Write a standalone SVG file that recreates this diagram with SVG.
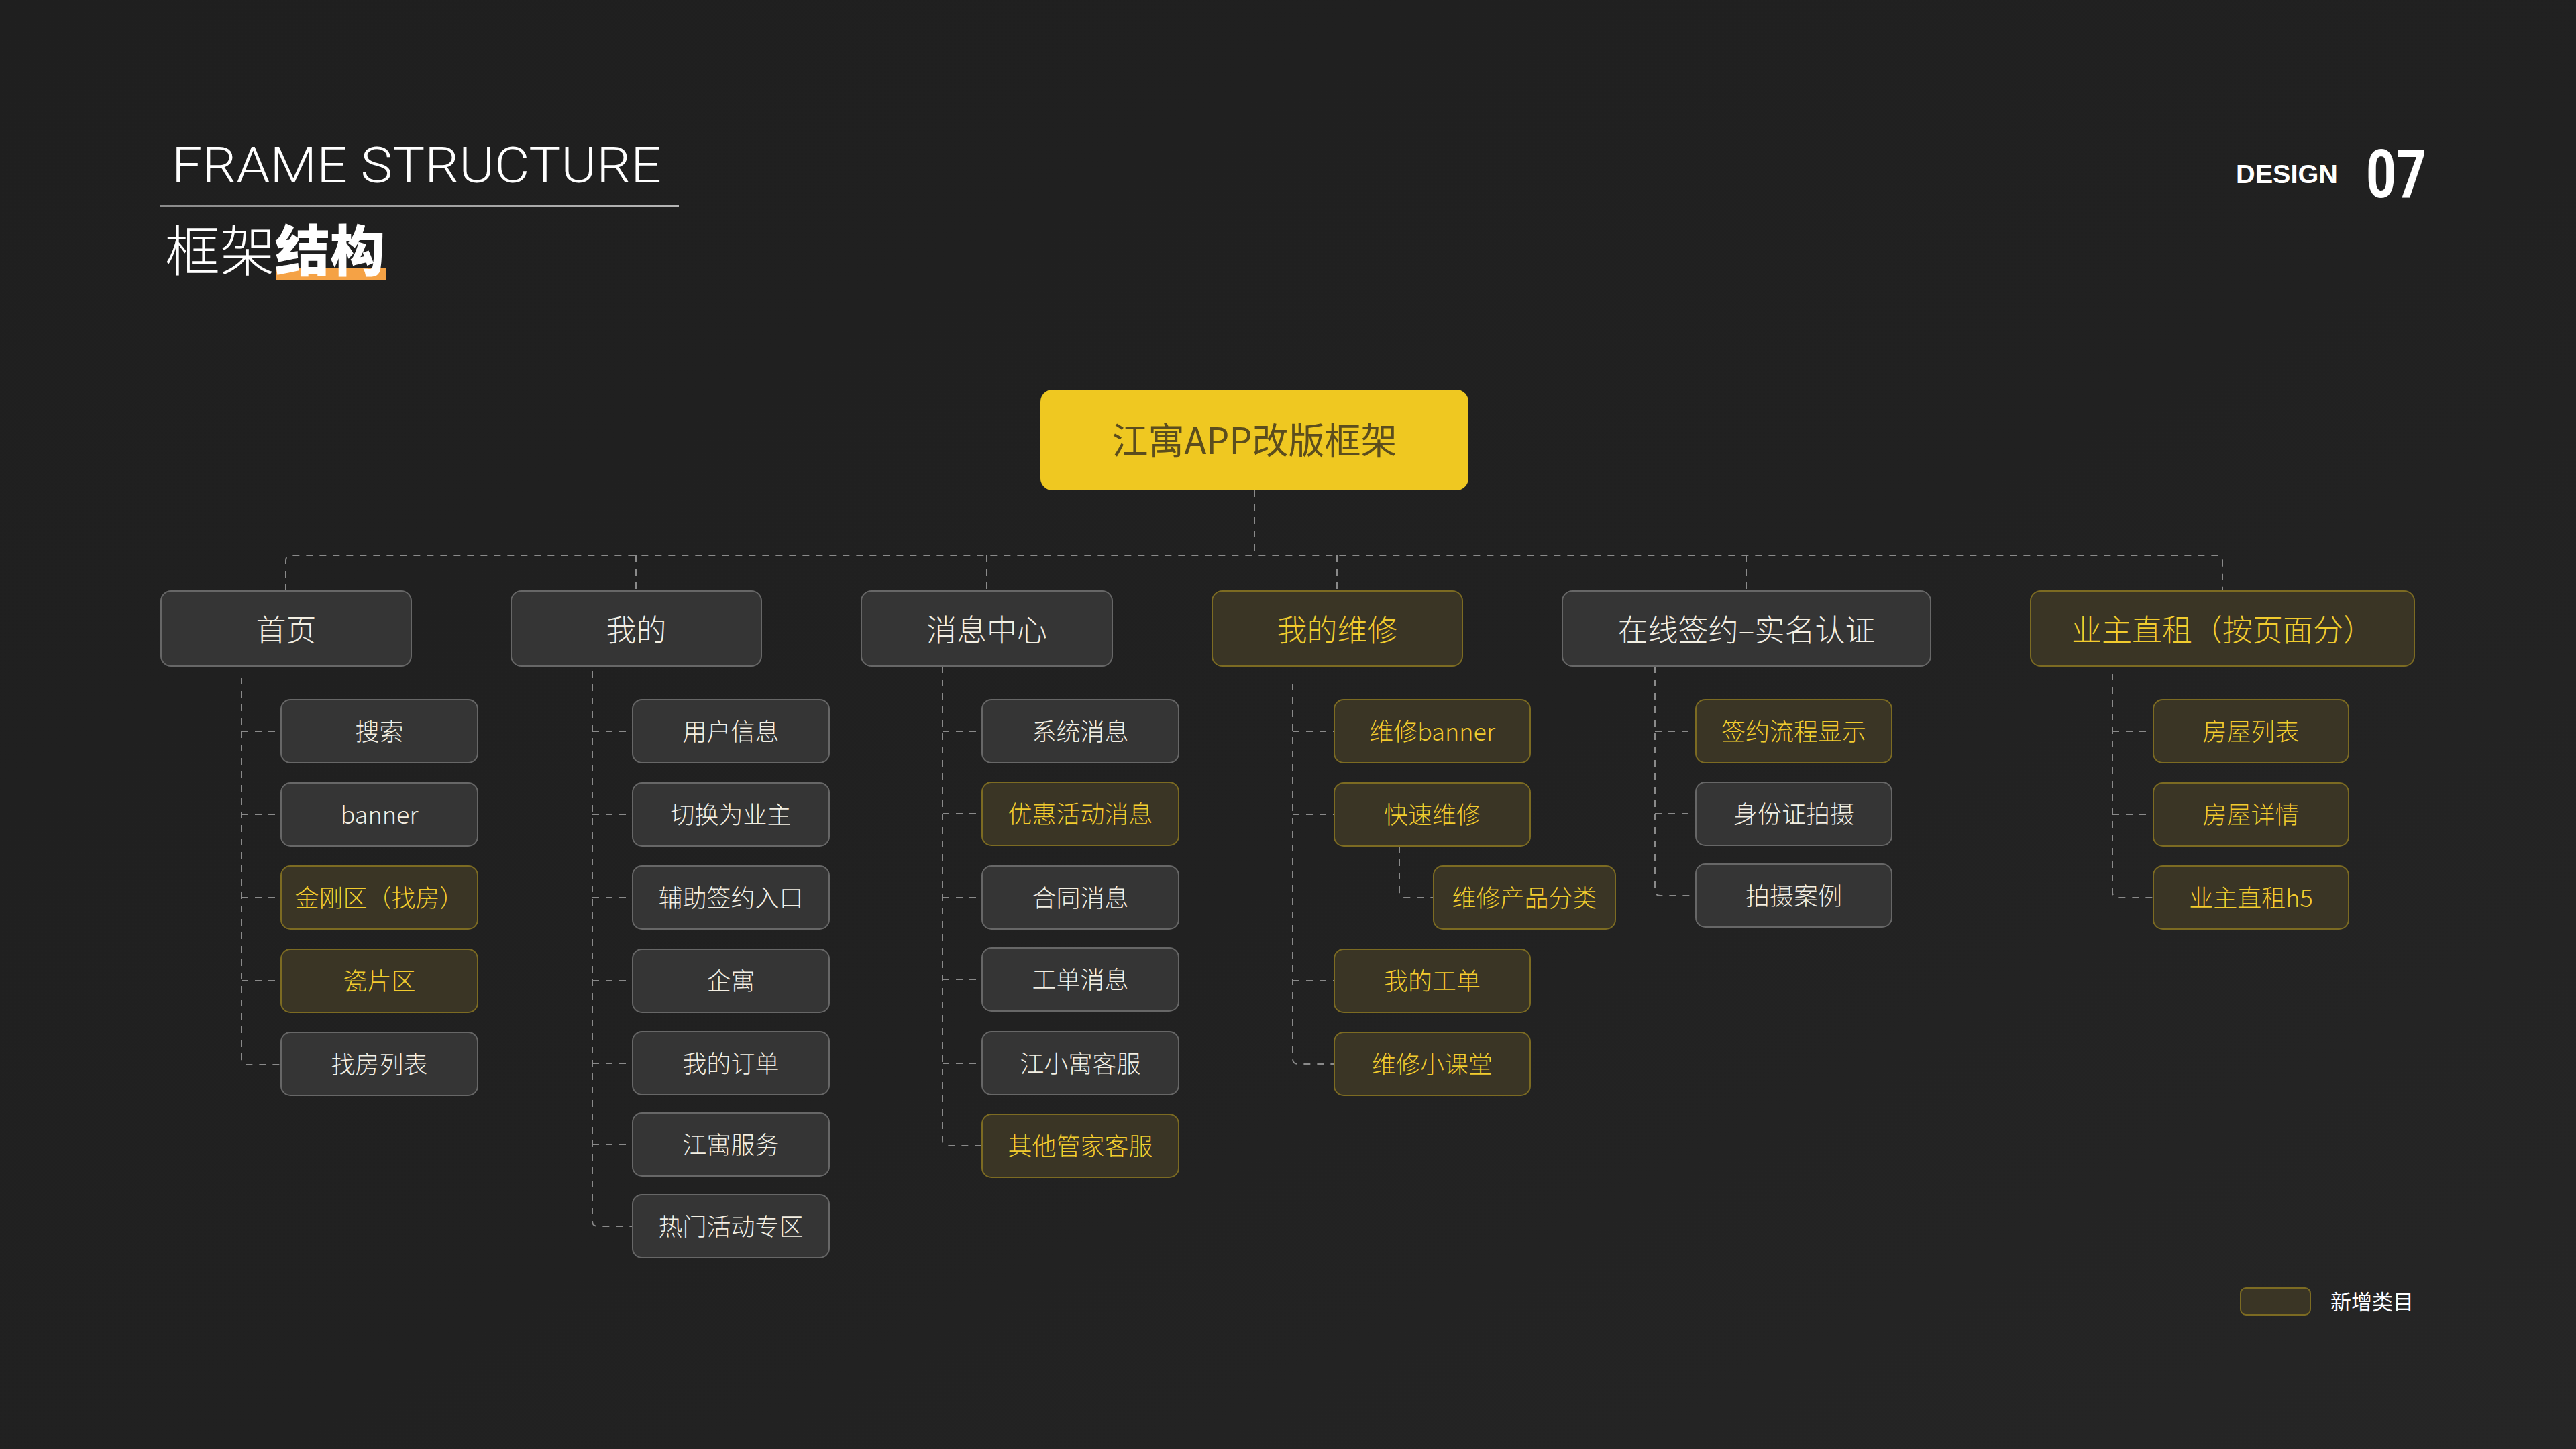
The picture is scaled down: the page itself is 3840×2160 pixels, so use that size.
<svg xmlns="http://www.w3.org/2000/svg" width="3840" height="2160" viewBox="0 0 3840 2160">
<defs>
<linearGradient id="bg" x1="0" y1="0" x2="1" y2="1">
<stop offset="0" stop-color="#1f1f1f"/>
<stop offset="0.55" stop-color="#212121"/>
<stop offset="1" stop-color="#262626"/>
</linearGradient>
<linearGradient id="ul" x1="0" y1="0" x2="1" y2="0">
<stop offset="0" stop-color="#8a8a8a"/>
<stop offset="1" stop-color="#b5b5b5"/>
</linearGradient>
</defs>
<style>
.cjk{font-family:"Noto Sans CJK SC","Noto Sans",sans-serif;}
.n rect{fill:#353535;stroke:#676767;stroke-width:2;}
.y rect{fill:#3a3525;stroke:#7c6b22;stroke-width:2;}
.n text{fill:#f3efe3;}
.y text{fill:#f2cc2e;}
.l1 text{font-size:45px;text-anchor:middle;font-family:"Noto Sans CJK SC","Noto Sans",sans-serif;font-weight:300;}
.l2 text{font-size:36px;text-anchor:middle;font-family:"Noto Sans CJK SC","Noto Sans",sans-serif;font-weight:300;}
.c path{fill:none;stroke:#8a8a8a;stroke-width:2;stroke-dasharray:10 10;}
</style>
<rect x="0" y="0" width="3840" height="2160" fill="url(#bg)"/>

<g id="title">
<text x="256" y="272" font-family="Roboto, 'Liberation Sans', sans-serif" font-weight="300" font-size="74" fill="#ffffff" textLength="730" lengthAdjust="spacingAndGlyphs">FRAME STRUCTURE</text>
<rect x="239" y="306" width="773" height="3" fill="url(#ul)"/>
<rect x="412" y="400" width="163" height="17" fill="#f5a245"/>
<text x="246" y="404" class="cjk" font-size="82" fill="#ffffff"><tspan font-weight="300">框架</tspan><tspan font-weight="900">结构</tspan></text>
</g>

<g id="page-no">
<text x="3333" y="273" font-family="'Liberation Sans', Arial, sans-serif" font-weight="bold" font-size="39" fill="#ffffff" textLength="152" lengthAdjust="spacingAndGlyphs">DESIGN</text>
<text x="3527" y="294" font-family="Roboto, 'Liberation Sans', sans-serif" font-weight="700" font-size="101" fill="#ffffff" textLength="90" lengthAdjust="spacingAndGlyphs">07</text>
</g>

<g id="connectors" class="c">
<path d="M1870,731 V828"/>
<path d="M426,881 V836 Q426,828 434,828 H3305 Q3313,828 3313,836 V881"/>
<path d="M948,828 V881"/>
<path d="M1471,828 V881"/>
<path d="M1993,828 V881"/>
<path d="M2603,828 V881"/>
<!-- 首页 -->
<path d="M360,1010 V1579 Q360,1587 368,1587 H419"/>
<path d="M360,1090 H419"/><path d="M360,1214 H419"/><path d="M360,1338 H419"/><path d="M360,1462 H419"/>
<!-- 我的 -->
<path d="M883,1000 V1820 Q883,1828 891,1828 H943"/>
<path d="M883,1090 H943"/><path d="M883,1214 H943"/><path d="M883,1338 H943"/><path d="M883,1462 H943"/><path d="M883,1585 H943"/><path d="M883,1706 H943"/>
<!-- 消息中心 -->
<path d="M1405,993 V1700 Q1405,1708 1413,1708 H1464"/>
<path d="M1405,1090 H1464"/><path d="M1405,1213 H1464"/><path d="M1405,1338 H1464"/><path d="M1405,1460 H1464"/><path d="M1405,1585 H1464"/>
<!-- 我的维修 -->
<path d="M1927,1019 V1578 Q1927,1586 1935,1586 H1989"/>
<path d="M1927,1090 H1989"/><path d="M1927,1214 H1989"/><path d="M1927,1462 H1989"/>
<path d="M2086,1261 V1330 Q2086,1338 2094,1338 H2137"/>
<!-- 在线签约 -->
<path d="M2467,993 V1327 Q2467,1335 2475,1335 H2528"/>
<path d="M2467,1090 H2528"/><path d="M2467,1213 H2528"/>
<!-- 业主直租 -->
<path d="M3149,1004 V1330 Q3149,1338 3157,1338 H3210"/>
<path d="M3149,1090 H3210"/><path d="M3149,1214 H3210"/>
</g>

<g id="root">
<rect x="1551" y="581" width="638" height="150" rx="18" fill="#efc821"/>
<text x="1870" y="677" class="cjk" font-size="54" text-anchor="middle" fill="#5b4d1e">江寓APP改版框架</text>
</g>

<g id="l1-home" class="n l1"><rect x="240" y="881" width="373" height="112" rx="15"/><text x="426.5" y="956">首页</text></g>
<g id="l1-mine" class="n l1"><rect x="762" y="881" width="373" height="112" rx="15"/><text x="948.5" y="956">我的</text></g>
<g id="l1-msg" class="n l1"><rect x="1284" y="881" width="374" height="112" rx="15"/><text x="1471" y="956">消息中心</text></g>
<g id="l1-repair" class="y l1"><rect x="1807" y="881" width="373" height="112" rx="15"/><text x="1993.5" y="956">我的维修</text></g>
<g id="l1-sign" class="n l1"><rect x="2329" y="881" width="549" height="112" rx="15"/><text x="2603.5" y="956">在线签约–实名认证</text></g>
<g id="l1-owner" class="y l1"><rect x="3027" y="881" width="572" height="112" rx="15"/><text x="3313" y="956">业主直租（按页面分）</text></g>

<g id="home-1" class="n l2"><rect x="419" y="1043" width="293" height="94" rx="14"/><text x="565.5" y="1104">搜索</text></g>
<g id="home-2" class="n l2"><rect x="419" y="1167" width="293" height="94" rx="14"/><text x="565.5" y="1228">banner</text></g>
<g id="home-3" class="y l2"><rect x="419" y="1291" width="293" height="94" rx="14"/><text x="565.5" y="1352">金刚区（找房）</text></g>
<g id="home-4" class="y l2"><rect x="419" y="1415" width="293" height="94" rx="14"/><text x="565.5" y="1476">瓷片区</text></g>
<g id="home-5" class="n l2"><rect x="419" y="1539" width="293" height="94" rx="14"/><text x="565.5" y="1600">找房列表</text></g>

<g id="mine-1" class="n l2"><rect x="943" y="1043" width="293" height="94" rx="14"/><text x="1089.5" y="1104">用户信息</text></g>
<g id="mine-2" class="n l2"><rect x="943" y="1167" width="293" height="94" rx="14"/><text x="1089.5" y="1228">切换为业主</text></g>
<g id="mine-3" class="n l2"><rect x="943" y="1291" width="293" height="94" rx="14"/><text x="1089.5" y="1352">辅助签约入口</text></g>
<g id="mine-4" class="n l2"><rect x="943" y="1415" width="293" height="94" rx="14"/><text x="1089.5" y="1476">企寓</text></g>
<g id="mine-5" class="n l2"><rect x="943" y="1538" width="293" height="94" rx="14"/><text x="1089.5" y="1599">我的订单</text></g>
<g id="mine-6" class="n l2"><rect x="943" y="1659" width="293" height="94" rx="14"/><text x="1089.5" y="1720">江寓服务</text></g>
<g id="mine-7" class="n l2"><rect x="943" y="1781" width="293" height="94" rx="14"/><text x="1089.5" y="1842">热门活动专区</text></g>

<g id="msg-1" class="n l2"><rect x="1464" y="1043" width="293" height="94" rx="14"/><text x="1610.5" y="1104">系统消息</text></g>
<g id="msg-2" class="y l2"><rect x="1464" y="1166" width="293" height="94" rx="14"/><text x="1610.5" y="1227">优惠活动消息</text></g>
<g id="msg-3" class="n l2"><rect x="1464" y="1291" width="293" height="94" rx="14"/><text x="1610.5" y="1352">合同消息</text></g>
<g id="msg-4" class="n l2"><rect x="1464" y="1413" width="293" height="94" rx="14"/><text x="1610.5" y="1474">工单消息</text></g>
<g id="msg-5" class="n l2"><rect x="1464" y="1538" width="293" height="94" rx="14"/><text x="1610.5" y="1599">江小寓客服</text></g>
<g id="msg-6" class="y l2"><rect x="1464" y="1661" width="293" height="94" rx="14"/><text x="1610.5" y="1722">其他管家客服</text></g>

<g id="repair-1" class="y l2"><rect x="1989" y="1043" width="292" height="94" rx="14"/><text x="2135" y="1104">维修banner</text></g>
<g id="repair-2" class="y l2"><rect x="1989" y="1167" width="292" height="94" rx="14"/><text x="2135" y="1228">快速维修</text></g>
<g id="repair-2a" class="y l2"><rect x="2137" y="1291" width="271" height="94" rx="14"/><text x="2272.5" y="1352">维修产品分类</text></g>
<g id="repair-3" class="y l2"><rect x="1989" y="1415" width="292" height="94" rx="14"/><text x="2135" y="1476">我的工单</text></g>
<g id="repair-4" class="y l2"><rect x="1989" y="1539" width="292" height="94" rx="14"/><text x="2135" y="1600">维修小课堂</text></g>

<g id="sign-1" class="y l2"><rect x="2528" y="1043" width="292" height="94" rx="14"/><text x="2674" y="1104">签约流程显示</text></g>
<g id="sign-2" class="n l2"><rect x="2528" y="1166" width="292" height="94" rx="14"/><text x="2674" y="1227">身份证拍摄</text></g>
<g id="sign-3" class="n l2"><rect x="2528" y="1288" width="292" height="94" rx="14"/><text x="2674" y="1349">拍摄案例</text></g>

<g id="owner-1" class="y l2"><rect x="3210" y="1043" width="291" height="94" rx="14"/><text x="3355.5" y="1104">房屋列表</text></g>
<g id="owner-2" class="y l2"><rect x="3210" y="1167" width="291" height="94" rx="14"/><text x="3355.5" y="1228">房屋详情</text></g>
<g id="owner-3" class="y l2"><rect x="3210" y="1291" width="291" height="94" rx="14"/><text x="3355.5" y="1352">业主直租h5</text></g>

<g id="legend" class="y">
<rect x="3340" y="1920" width="104" height="40" rx="8"/>
<text x="3474" y="1952" class="cjk" font-size="31" style="fill:#ffffff">新增类目</text>
</g>
</svg>
